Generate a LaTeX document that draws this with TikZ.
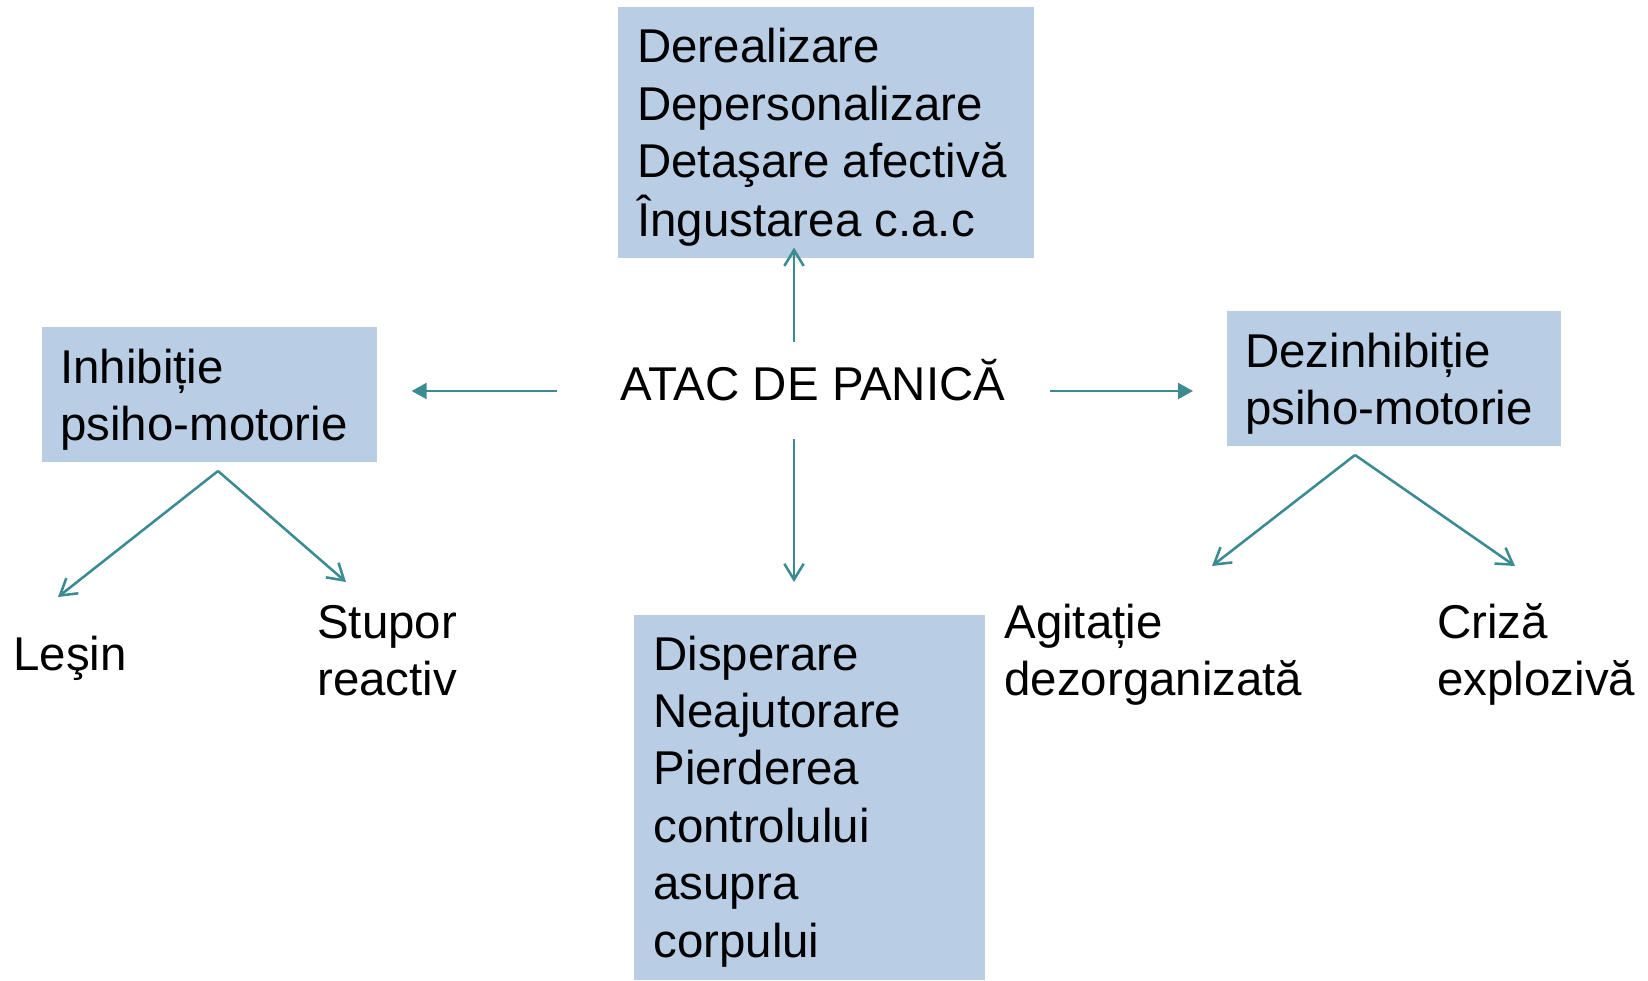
\documentclass[tikz,border=0pt]{standalone}
\usepackage{fontspec}
\setmainfont{Liberation Sans}
\usetikzlibrary{arrows.meta}
\definecolor{boxblue}{HTML}{B9CDE5}
\definecolor{arrowteal}{HTML}{3B8B93}
\begin{document}
\begin{tikzpicture}[x=0.02cm,y=-0.02cm,
  box/.style={fill=boxblue, draw=none, inner sep=0pt, anchor=north west},
  txt/.style={anchor=base west, inner sep=0pt, font=\fontsize{27}{32.7}\selectfont},
  conn/.style={draw=arrowteal, line width=1.45pt},
  openhead/.style={-{Straight Barb[length=9pt,width=11pt]}},
  fillhead/.style={-{Triangle[length=8.5pt,width=9pt]}}]
\path[use as bounding box] (0,0) rectangle (1648,980);

% boxes
\node[box, minimum width=8.32cm, minimum height=5.02cm] (topbox) at (618,7) {};
\node[box, minimum width=6.70cm, minimum height=2.70cm] (leftbox) at (42,327) {};
\node[box, minimum width=6.68cm, minimum height=2.70cm] (rightbox) at (1227,311) {};
\node[box, minimum width=7.02cm, minimum height=7.30cm] (botbox) at (634,615) {};

% texts
\node[txt] (toptext) at (637,63) {\begin{tabular}[t]{@{}l@{}}Derealizare\\Depersonalizare\\Detaşare afectivă\\Îngustarea c.a.c\end{tabular}};
\node[txt] (lefttext) at (60,383) {\begin{tabular}[t]{@{}l@{}}Inhibiție\\psiho-motorie\end{tabular}};
\node[txt] (righttext) at (1245,367) {\begin{tabular}[t]{@{}l@{}}Dezinhibiție\\psiho-motorie\end{tabular}};
\node[txt] (bottext) at (653,670) {\begin{tabular}[t]{@{}l@{}}Disperare\\Neajutorare\\Pierderea\\controlului\\asupra\\corpului\end{tabular}};
\node[txt] (atac) at (620,400) {ATAC DE PANICĂ};
\node[txt] (lesin) at (13,670) {Leşin};
\node[txt] (stupor) at (317,638) {\begin{tabular}[t]{@{}l@{}}Stupor\\reactiv\end{tabular}};
\node[txt] (agit) at (1004,638) {\begin{tabular}[t]{@{}l@{}}Agitație\\dezorganizată\end{tabular}};
\node[txt] (criza) at (1437,638) {\begin{tabular}[t]{@{}l@{}}Criză\\explozivă\end{tabular}};

% connector anchor points
\coordinate (aU) at (794,342);
\coordinate (aL) at (557,391);
\coordinate (aR) at (1050,391);
\coordinate (aD) at (794,439);
\coordinate (lA) at (218,471);
\coordinate (lL) at (58,597);
\coordinate (lS) at (346,582);
\coordinate (rA) at (1355,455);
\coordinate (rL) at (1212,566);
\coordinate (rC) at (1515,566);

% main connectors
\draw[conn, openhead, shorten >=-0.22cm] (aU) -- (aU |- topbox.south);
\draw[conn, fillhead, shorten >=0.68cm] (aL) -- (aL -| leftbox.east);
\draw[conn, fillhead, shorten >=0.68cm] (aR) -- (aR -| rightbox.west);
\draw[conn, openhead, shorten >=0.66cm] (aD) -- (aD |- botbox.north);

% sub connectors
\draw[conn, openhead] (lA) -- (lL);
\draw[conn, openhead] (lA) -- (lS);
\draw[conn, openhead] (rA) -- (rL);
\draw[conn, openhead] (rA) -- (rC);
\end{tikzpicture}
\end{document}
